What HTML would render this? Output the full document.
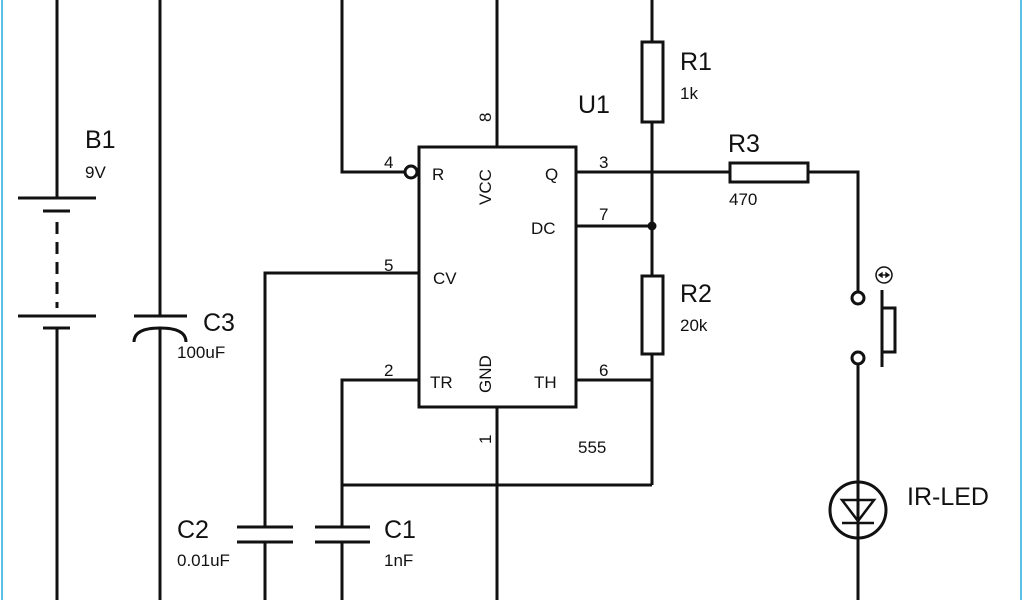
<!DOCTYPE html>
<html><head><style>body{margin:0;background:#fff}svg{display:block}text{font-family:"Liberation Sans",sans-serif;fill:#111}</style></head><body>
<svg width="1024" height="600" viewBox="0 0 1024 600">
<rect x="0" y="0" width="1024" height="600" fill="#fff"/>
<line x1="2" y1="0" x2="2" y2="600" stroke="#5bc0e8" stroke-width="2"/>
<line x1="1021" y1="0" x2="1021" y2="600" stroke="#5bc0e8" stroke-width="2"/>
<g stroke="#111" stroke-width="3" fill="none">
<line x1="57" y1="0" x2="57" y2="198"/>
<line x1="18" y1="198" x2="96" y2="198"/>
<line x1="43" y1="211" x2="70" y2="211"/>
<line x1="57" y1="222" x2="57" y2="308" stroke-dasharray="12,8"/>
<line x1="18" y1="316" x2="96" y2="316"/>
<line x1="43" y1="328" x2="70" y2="328"/>
<line x1="57" y1="328" x2="57" y2="600"/>
<line x1="160" y1="0" x2="160" y2="316"/>
<line x1="134" y1="316" x2="187" y2="316"/>
<path d="M134,342 Q134,328 160,328 Q186,328 186,342"/>
<line x1="160" y1="328" x2="160" y2="600"/>
<polyline points="342,0 342,172 405,172"/>
<circle cx="411" cy="172" r="6"/>
<line x1="497" y1="0" x2="497" y2="147"/>
<rect x="419" y="147" width="157" height="260"/>
<line x1="576" y1="172" x2="730" y2="172"/>
<rect x="730" y="163" width="78" height="19"/>
<polyline points="808,172 858,172 858,292"/>
<line x1="652" y1="0" x2="652" y2="42"/>
<rect x="642" y="42" width="21" height="80"/>
<line x1="652" y1="122" x2="652" y2="276"/>
<rect x="642" y="276" width="21" height="78"/>
<line x1="652" y1="354" x2="652" y2="485"/>
<line x1="576" y1="226" x2="652" y2="226"/>
<polyline points="419,273 265,273 265,527"/>
<line x1="237" y1="527" x2="293" y2="527"/>
<line x1="237" y1="542" x2="293" y2="542"/>
<line x1="265" y1="542" x2="265" y2="600"/>
<polyline points="419,380 342,380 342,527"/>
<line x1="315" y1="527" x2="370" y2="527"/>
<line x1="315" y1="542" x2="370" y2="542"/>
<line x1="342" y1="542" x2="342" y2="600"/>
<line x1="576" y1="380" x2="652" y2="380"/>
<line x1="342" y1="485" x2="652" y2="485"/>
<line x1="497" y1="407" x2="497" y2="600"/>
<circle cx="858" cy="298" r="6"/>
<circle cx="858" cy="358" r="6"/>
<line x1="882" y1="290" x2="882" y2="367"/>
<polyline points="882,308 895,308 895,352 882,352"/>
<line x1="858" y1="364" x2="858" y2="600"/>
<circle cx="858" cy="510" r="28"/>
<polygon points="842,500 874,500 858,521" stroke-width="2.5"/>
<line x1="842" y1="523" x2="874" y2="523" stroke-width="2.5"/>
</g>
<circle cx="652" cy="226" r="4.5" fill="#111"/>
<circle cx="884" cy="275" r="8" fill="none" stroke="#111" stroke-width="1.5"/>
<g stroke="#111" stroke-width="1.3" fill="#111">
<line x1="880" y1="275" x2="888" y2="275"/>
<polygon points="879,275 882,273 882,277"/>
<polygon points="889,275 886,273 886,277"/>
</g>
<g font-size="25">
<text x="85" y="148">B1</text><text x="203" y="331">C3</text>
<text x="680" y="70">R1</text><text x="578" y="113">U1</text>
<text x="728" y="152">R3</text><text x="680" y="302">R2</text>
<text x="177" y="538">C2</text><text x="384" y="538">C1</text>
<text x="907" y="505">IR-LED</text>
</g>
<g font-size="17">
<text x="85" y="178">9V</text><text x="177" y="358">100uF</text>
<text x="680" y="99">1k</text><text x="729" y="205">470</text>
<text x="680" y="331">20k</text><text x="177" y="566">0.01uF</text>
<text x="384" y="566">1nF</text><text x="578" y="453">555</text>
<text x="432" y="180">R</text><text x="545" y="180">Q</text>
<text x="531" y="234">DC</text><text x="433" y="284">CV</text>
<text x="430" y="388">TR</text><text x="534" y="388">TH</text>
<text x="384" y="168">4</text><text x="384" y="271">5</text>
<text x="384" y="376">2</text><text x="599" y="168">3</text>
<text x="599" y="220">7</text><text x="599" y="376">6</text>
<text transform="translate(491,205) rotate(-90)">VCC</text>
<text transform="translate(491,393) rotate(-90)">GND</text>
<text transform="translate(491,122) rotate(-90)">8</text>
<text transform="translate(491,444) rotate(-90)">1</text>
</g>
</svg>
</body></html>
